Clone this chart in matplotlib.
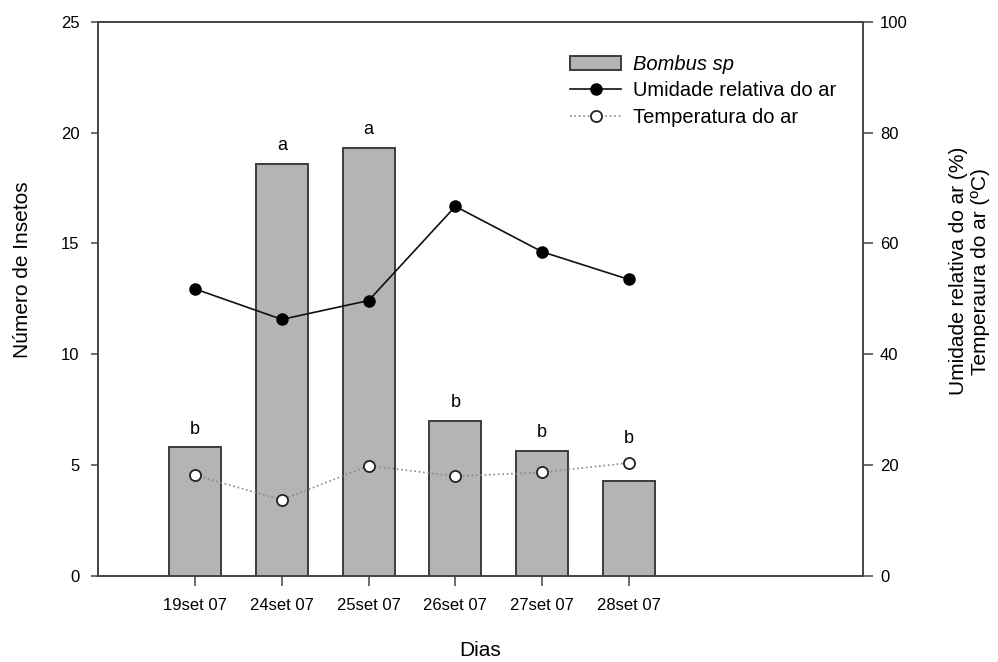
import matplotlib
matplotlib.use("Agg")
import matplotlib.pyplot as plt
import numpy as np

plt.rcParams['font.family'] = ['Liberation Sans', 'DejaVu Sans']

# dados
dias = ["19set 07", "24set 07", "25set 07", "26set 07", "27set 07", "28set 07"]
insetos = [5.8, 18.6, 19.3, 7.0, 5.65, 4.3]
letras = ["b", "a", "a", "b", "b", "b"]
umidade = [51.8, 46.3, 49.7, 66.7, 58.5, 53.5]
temperatura = [18.2, 13.7, 19.9, 18.0, 18.7, 20.4]

x = np.arange(len(dias))

fig, ax = plt.subplots(figsize=(9.98, 6.62), dpi=100)
fig.subplots_adjust(left=0.098, right=0.865, top=0.967, bottom=0.130)
ax2 = ax.twinx()
ax.set_zorder(ax2.get_zorder() - 1)
ax.patch.set_visible(True)
ax2.patch.set_visible(False)

barras = ax.bar(x, insetos, width=0.6, color="#b4b4b4", edgecolor="#3c3c3c",
                linewidth=1.4, label="Bombus sp")

ax.set_xlim(-1.12, 7.7)
ax.set_ylim(0, 25)
ax.set_yticks([0, 5, 10, 15, 20, 25])
ax.set_xticks(x)
ax.set_xticklabels(dias)
ax.set_xlabel("Dias", fontsize=15, labelpad=20)
ax.set_ylabel("Número de Insetos", fontsize=15, labelpad=21)
ax.yaxis.label.set_y(0.552)

l1, = ax2.plot(x, umidade, "-o", color="#111111", linewidth=1.2, markersize=8,
               markerfacecolor="black", markeredgecolor="black",
               label="Umidade relativa do ar")
l2, = ax2.plot(x, temperatura, ":o", color="#888888", linewidth=1.2, markersize=8,
               markerfacecolor="white", markeredgecolor="#222222",
               markeredgewidth=1.3, label="Temperatura do ar")
ax2.set_ylim(0, 100)
ax2.set_yticks([0, 20, 40, 60, 80, 100])
ax2.set_ylabel("Umidade relativa do ar (%)\nTemperaura do ar (ºC)", fontsize=15,
               labelpad=30)
ax2.yaxis.label.set_y(0.55)

# letras de significância acima de cada barra
for xi, h, t, letra in zip(x, insetos, temperatura, letras):
    topo = max(h, t / 4 + 0.3)
    ax.annotate(letra, (xi, topo), xytext=(0, 7), textcoords="offset points",
                ha="center", va="bottom", fontsize=13)

for a in (ax, ax2):
    for s in a.spines.values():
        s.set_color("#444444")
        s.set_linewidth(1.2)
    a.tick_params(direction="out", width=1.1, color="#444444", labelsize=12)
ax.tick_params(axis="y", length=5, pad=8)
ax.tick_params(axis="x", length=7, pad=9)
ax2.tick_params(axis="y", length=7, pad=5)

leg = ax2.legend([barras, l1, l2], ["Bombus sp", "Umidade relativa do ar",
                                    "Temperatura do ar"],
                 loc="upper left", bbox_to_anchor=(0.607, 0.955), frameon=False,
                 fontsize=14.5, handlelength=2.5, handletextpad=0.6,
                 labelspacing=0.38, borderaxespad=0)
leg.get_texts()[0].set_fontstyle("italic")

fig.savefig("out.png", dpi=100)
